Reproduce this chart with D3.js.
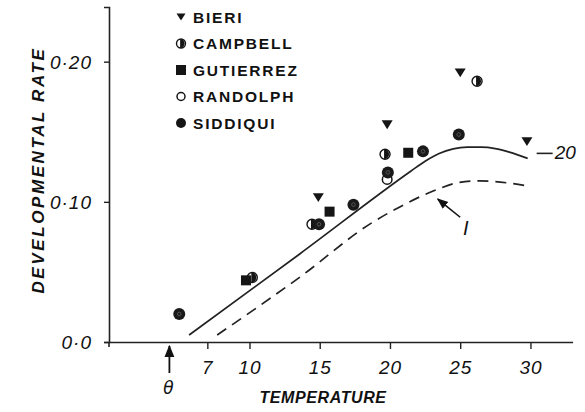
<!DOCTYPE html>
<html>
<head>
<meta charset="utf-8">
<script src="https://cdn.jsdelivr.net/npm/d3@7"></script>
<style>
  body { margin: 0; background: #fff; }
  svg { display: block; }
  .tick text { font-family: "Liberation Sans", Arial, sans-serif; font-style: italic; font-size: 19px; letter-spacing: 1px; fill: #111; }
</style>
</head>
<body>
<div id="chart"></div>
<script>
// observed points (temperature, rate)
var bieri = [[14.9, 0.103], [19.8, 0.155], [25.0, 0.192], [29.75, 0.143]];
var campbell = [[10.2, 0.046], [14.45, 0.084], [19.65, 0.134], [26.2, 0.186]];
var gutierrez = [[9.75, 0.044], [15.7, 0.093], [21.3, 0.135]];
var randolph = [[19.8, 0.116]];
var siddiqui = [[5.0, 0.020], [14.95, 0.084], [17.4, 0.098], [19.85, 0.121], [22.35, 0.136], [24.9, 0.148]];

// model curves: 20 (solid) and 1 (dashed)
var curve20 = [[5.7, 0.005], [13.6, 0.063], [21.5, 0.122], [22.5, 0.129], [23.5, 0.1345], [24.5, 0.1378],
  [25.5, 0.139], [26.5, 0.139], [27.5, 0.138], [28.5, 0.1355], [29.8, 0.131]];
var curve1 = [[7.7, 0.005], [13.6, 0.0464], [18.7, 0.085], [20.7, 0.0964], [23.3, 0.1086], [24.8, 0.1136],
  [26.4, 0.115], [28.3, 0.1136], [30.0, 0.111]];

var xTicks = [7, 10, 15, 20, 25, 30];
var yTicks = [0, 0.10, 0.20];
var yTickLabels = ["0·0", "0·10", "0·20"];
var theta = 4.3;

var W = 585, H = 412;

var svg = d3.select("#chart").append("svg")
  .attr("width", W)
  .attr("height", H);

var x = d3.scaleLinear().domain([0, 33]).range([109, 572.6]);
var y = d3.scaleLinear().domain([0, 0.239]).range([342, 7]);

// x axis
var gx = svg.append("g")
  .attr("transform", "translate(0," + y(0) + ")")
  .call(d3.axisBottom(x).tickValues(xTicks).tickSize(7).tickSizeOuter(0).tickPadding(9)
    .tickFormat(function(d) { return d; }));
gx.select(".domain").attr("stroke", "#222").attr("stroke-width", 1.6);
gx.selectAll(".tick line").attr("stroke", "#222").attr("stroke-width", 1.4);
gx.selectAll(".tick text").attr("dy", "0.85em");

// y axis
var gy = svg.append("g")
  .attr("transform", "translate(" + x(0) + ",0)")
  .call(d3.axisLeft(y).tickValues(yTicks).tickSize(5).tickSizeOuter(5).tickPadding(12)
    .tickFormat(function(d, i) { return yTickLabels[i]; }));
gy.select(".domain").attr("stroke", "#222").attr("stroke-width", 1.6);
gy.selectAll(".tick line").attr("stroke", "#222").attr("stroke-width", 1.4);
gy.selectAll(".tick text").attr("dy", "0.35em");

// little overhang at the origin
svg.append("line").attr("x1", x(0)).attr("x2", x(0)).attr("y1", y(0)).attr("y2", y(0) + 5)
  .attr("stroke", "#222").attr("stroke-width", 1.6);

// axis titles
svg.append("text")
  .attr("x", 323).attr("y", 403)
  .attr("text-anchor", "middle")
  .style("font-family", "Liberation Sans, Arial, sans-serif")
  .style("font-style", "italic").style("font-weight", "bold")
  .style("font-size", "16px").style("letter-spacing", "0.6px")
  .attr("fill", "#111")
  .text("TEMPERATURE");

svg.append("text")
  .attr("transform", "translate(44,170) rotate(-90)")
  .attr("text-anchor", "middle")
  .style("font-family", "Liberation Sans, Arial, sans-serif")
  .style("font-style", "italic").style("font-weight", "bold")
  .style("font-size", "17px").style("letter-spacing", "2.6px")
  .attr("fill", "#111")
  .text("DEVELOPMENTAL RATE");

// curves
var line = d3.line()
  .x(function(d) { return x(d[0]); })
  .y(function(d) { return y(d[1]); })
  .curve(d3.curveMonotoneX);

svg.append("path").datum(curve20)
  .attr("d", line).attr("fill", "none")
  .attr("stroke", "#222").attr("stroke-width", 1.7);

svg.append("path").datum(curve1)
  .attr("d", line).attr("fill", "none")
  .attr("stroke", "#222").attr("stroke-width", 1.7)
  .attr("stroke-dasharray", "11,7");

// "— 20" label at end of solid curve
var last20 = curve20[curve20.length - 1];
svg.append("line")
  .attr("x1", x(last20[0]) + 9).attr("x2", x(last20[0]) + 25)
  .attr("y1", y(last20[1]) - 5).attr("y2", y(last20[1]) - 5)
  .attr("stroke", "#222").attr("stroke-width", 1.6);
svg.append("text")
  .attr("x", x(last20[0]) + 27).attr("y", y(last20[1]) + 1)
  .style("font-family", "Liberation Sans, Arial, sans-serif")
  .style("font-style", "italic").style("font-size", "19px")
  .attr("fill", "#111")
  .text("20");

// arrow marker
svg.append("defs").append("marker")
  .attr("id", "head")
  .attr("viewBox", "0 0 10 10")
  .attr("refX", 9).attr("refY", 5)
  .attr("markerWidth", 7).attr("markerHeight", 7)
  .attr("orient", "auto")
  .append("path").attr("d", "M0,1 L10,5 L0,9 Z").attr("fill", "#111");

// "I" label pointing at the dashed curve
svg.append("line")
  .attr("x1", x(25.0)).attr("y1", y(0.089))
  .attr("x2", x(23.4)).attr("y2", y(0.102))
  .attr("stroke", "#111").attr("stroke-width", 1.6)
  .attr("marker-end", "url(#head)");
svg.append("text")
  .attr("x", x(25.2)).attr("y", y(0.076))
  .style("font-family", "Liberation Sans, Arial, sans-serif")
  .style("font-style", "italic").style("font-size", "20px")
  .attr("fill", "#111")
  .text("I");

// theta arrow
svg.append("line")
  .attr("x1", x(theta)).attr("x2", x(theta))
  .attr("y1", y(0) + 31).attr("y2", y(0) + 4)
  .attr("stroke", "#111").attr("stroke-width", 1.8)
  .attr("marker-end", "url(#head)");
svg.append("text")
  .attr("x", x(theta) - 1).attr("y", y(0) + 52)
  .attr("text-anchor", "middle")
  .style("font-family", "DejaVu Sans, sans-serif")
  .style("font-style", "italic").style("font-size", "17px")
  .attr("fill", "#111")
  .text("θ");

// marker drawers
function drawTri(g, cx, cy, s) {
  g.append("path")
    .attr("d", "M" + (cx - s) + "," + (cy - s * 0.8) + " L" + (cx + s) + "," + (cy - s * 0.8) + " L" + cx + "," + (cy + s * 0.8) + " Z")
    .attr("fill", "#151515");
}
function drawHalf(g, cx, cy, r) {
  g.append("circle").attr("cx", cx).attr("cy", cy).attr("r", r)
    .attr("fill", "#fff").attr("stroke", "#151515").attr("stroke-width", 1.4);
  g.append("path")
    .attr("d", "M" + (cx - r * 0.2) + "," + (cy - r) + " A" + r + "," + r + " 0 0,1 " + (cx - r * 0.2) + "," + (cy + r) + " Z")
    .attr("fill", "#151515");
}
function drawSq(g, cx, cy, s) {
  g.append("rect").attr("x", cx - s).attr("y", cy - s).attr("width", 2 * s).attr("height", 2 * s)
    .attr("fill", "#151515");
}
function drawOpen(g, cx, cy, r) {
  g.append("circle").attr("cx", cx).attr("cy", cy).attr("r", r)
    .attr("fill", "#fff").attr("stroke", "#151515").attr("stroke-width", 1.5);
}
function drawDot(g, cx, cy, r) {
  g.append("circle").attr("cx", cx).attr("cy", cy).attr("r", r).attr("fill", "#1a1a1a");
  g.append("circle").attr("cx", cx).attr("cy", cy).attr("r", r * 0.3)
    .attr("fill", "none").attr("stroke", "#555").attr("stroke-width", 1);
}

var pts = svg.append("g");
randolph.forEach(function(d) { drawOpen(pts, x(d[0]), y(d[1]), 4.8); });
campbell.forEach(function(d) { drawHalf(pts, x(d[0]), y(d[1]), 5); });
gutierrez.forEach(function(d) { drawSq(pts, x(d[0]), y(d[1]), 5); });
siddiqui.forEach(function(d) { drawDot(pts, x(d[0]), y(d[1]), 6); });
bieri.forEach(function(d) { drawTri(pts, x(d[0]), y(d[1]), 5.5); });

// legend
var legendNames = ["BIERI", "CAMPBELL", "GUTIERREZ", "RANDOLPH", "SIDDIQUI"];
var legendDraw = [
  function(g, cx, cy) { drawTri(g, cx, cy, 4.5); },
  function(g, cx, cy) { drawHalf(g, cx, cy, 4.5); },
  function(g, cx, cy) { drawSq(g, cx, cy, 5); },
  function(g, cx, cy) { drawOpen(g, cx, cy, 4); },
  function(g, cx, cy) { g.append("circle").attr("cx", cx).attr("cy", cy).attr("r", 5).attr("fill", "#151515"); }
];
var leg = svg.append("g");
legendNames.forEach(function(name, i) {
  var cy = 17 + i * 26.5;
  legendDraw[i](leg, 181, cy);
  leg.append("text")
    .attr("x", 193).attr("y", cy).attr("dy", "0.36em")
    .style("font-family", "Liberation Sans, Arial, sans-serif")
    .style("font-weight", "bold").style("font-size", "15.5px")
    .style("letter-spacing", "1.8px")
    .attr("fill", "#111")
    .text(name);
});
</script>
</body>
</html>
